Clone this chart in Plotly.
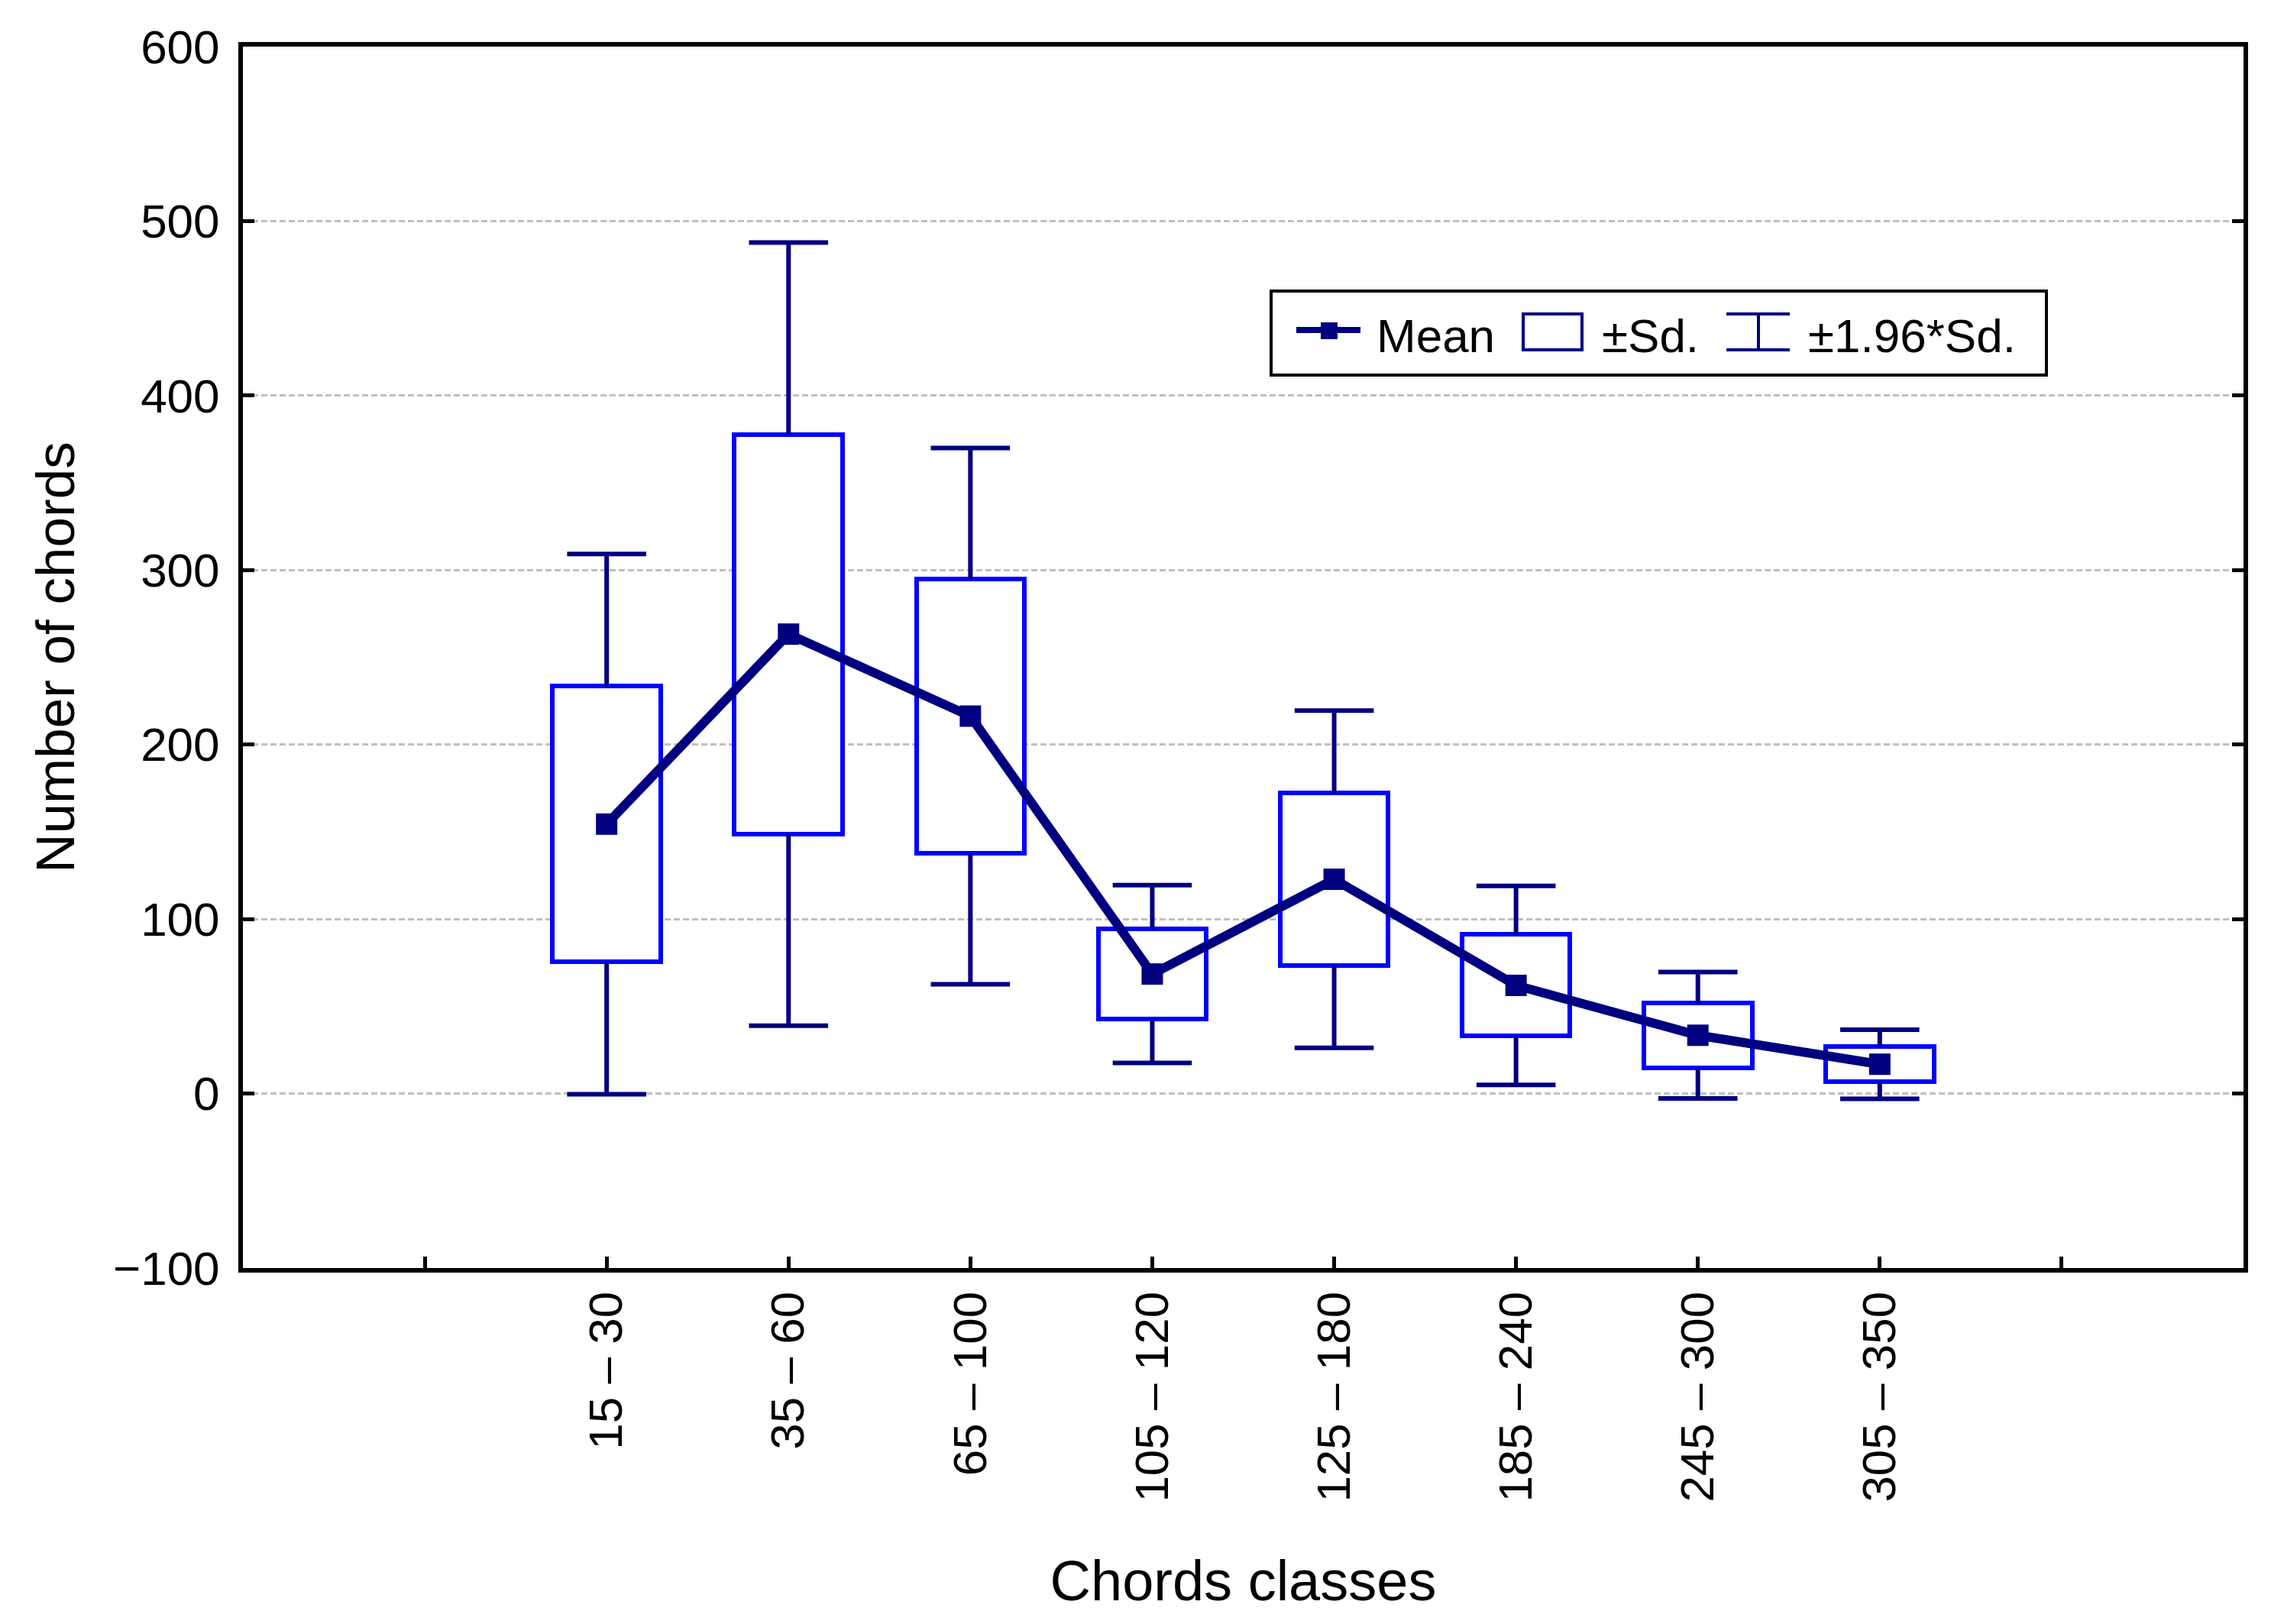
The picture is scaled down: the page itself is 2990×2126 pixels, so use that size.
import plotly.graph_objects as go

# ---------------- data ----------------
categories = ["15 – 30", "35 – 60", "65 – 100", "105 – 120",
              "125 – 180", "185 – 240", "245 – 300", "305 – 350"]
positions = [2, 3, 4, 5, 6, 7, 8, 9]
means = [154.4, 263.3, 216.3, 68.5, 122.8, 62.0, 33.4, 16.8]
sds = [79.0, 114.5, 78.4, 26.0, 49.3, 29.1, 18.5, 10.1]
k_ci = 1.96
y_ticks = [-100, 0, 100, 200, 300, 400, 500, 600]
x_ticks = [1, 2, 3, 4, 5, 6, 7, 8, 9, 10]
x_ticktext = [""] + categories + [""]

# ---------------- style ----------------
OFF = 8                      # page body margin
W, H = 2990 - 2 * OFF, 2126 - 2 * OFF
PL, PT, PR, PB = 318, 61, 2937, 1660   # plot-area edges in page pixels
ML, MT = PL - OFF, PT - OFF
MR = W - (PR - OFF)
MB = H - (PB - OFF)
NAVY = "#000080"
BLUE = "#0000FF"
FONT = "Arial, Liberation Sans, sans-serif"
TICK_FS = 62

box_low = [m - s for m, s in zip(means, sds)]
box_len = [2 * s for s in sds]

wx, wy = [], []
cap_x, cap_y = [], []
for p, m, s in zip(positions, means, sds):
    wx += [p, p, None, p, p, None]
    wy += [m + s, m + k_ci * s, None, m - s, m - k_ci * s, None]
    cap_x += [p, p]
    cap_y += [m + k_ci * s, m - k_ci * s]

fig = go.Figure()

# ±Sd boxes
fig.add_trace(go.Bar(
    x=positions, y=box_len, base=box_low, width=0.595,
    marker=dict(color="white", line=dict(color=BLUE, width=6)),
    showlegend=False, hoverinfo="skip"))

# ±1.96*Sd whiskers
fig.add_trace(go.Scatter(
    x=wx, y=wy, mode="lines", line=dict(color=NAVY, width=6),
    showlegend=False, hoverinfo="skip", connectgaps=False))
fig.add_trace(go.Scatter(
    x=cap_x, y=cap_y, mode="markers",
    marker=dict(symbol="line-ew", size=74, color=NAVY,
                line=dict(color=NAVY, width=6)),
    showlegend=False, hoverinfo="skip"))

# Mean line
fig.add_trace(go.Scatter(
    x=positions, y=means, mode="lines+markers",
    line=dict(color=NAVY, width=12),
    marker=dict(symbol="square", size=28, color=NAVY),
    showlegend=False))

# ---------------- manual legend (paper coordinates) ----------------
PW = PR - PL
PH = PB - PT


def px(xp):
    return (xp - PL) / PW


def py(yp):
    return (PB - yp) / PH


shapes = [
    dict(type="rect", xref="paper", yref="paper",
         x0=px(1664), x1=px(2679), y0=py(491), y1=py(381),
         line=dict(color="black", width=4), fillcolor="white", layer="above"),
    dict(type="line", xref="paper", yref="paper",
         x0=px(1697), x1=px(1781), y0=py(432), y1=py(432),
         line=dict(color=NAVY, width=8), layer="above"),
    dict(type="rect", xref="paper", yref="paper",
         x0=px(1729), x1=px(1751), y0=py(444), y1=py(422),
         line=dict(color=NAVY, width=0), fillcolor=NAVY, layer="above"),
    dict(type="rect", xref="paper", yref="paper",
         x0=px(1994), x1=px(2071), y0=py(458), y1=py(411),
         line=dict(color=NAVY, width=4), fillcolor="white", layer="above"),
    dict(type="line", xref="paper", yref="paper",
         x0=px(2260), x1=px(2343), y0=py(411), y1=py(411),
         line=dict(color=NAVY, width=4), layer="above"),
    dict(type="line", xref="paper", yref="paper",
         x0=px(2260), x1=px(2343), y0=py(458), y1=py(458),
         line=dict(color=NAVY, width=4), layer="above"),
    dict(type="line", xref="paper", yref="paper",
         x0=px(2302), x1=px(2302), y0=py(411), y1=py(458),
         line=dict(color=NAVY, width=4), layer="above"),
]

legend_texts = [("Mean", 1800), ("±Sd.", 2095), ("±1.96*Sd.", 2365)]
annotations = []
for txt, xpix in legend_texts:
    annotations.append(dict(
        text=txt, xref="paper", yref="paper", x=px(xpix), y=py(440),
        xanchor="left", yanchor="middle", showarrow=False,
        font=dict(family=FONT, size=TICK_FS, color="black")))

fig.update_layout(
    width=W, height=H,
    margin=dict(l=ML, r=MR, t=MT, b=MB, pad=0),
    paper_bgcolor="white", plot_bgcolor="white",
    font=dict(family=FONT, size=TICK_FS, color="black"),
    shapes=shapes, annotations=annotations,
    showlegend=False, bargap=0,
)

fig.update_xaxes(
    range=[0, 11], tickmode="array", tickvals=x_ticks, ticktext=x_ticktext,
    tickangle=-90, ticks="inside", ticklen=15, tickwidth=5, tickcolor="black",
    showline=True, linewidth=6, linecolor="black", mirror=True,
    showgrid=False, zeroline=False,
    tickfont=dict(family=FONT, size=TICK_FS, color="black"),
    ticklabelstandoff=0,
    title=dict(text="Chords classes", standoff=80,
               font=dict(family=FONT, size=74, color="black")),
)

fig.update_yaxes(
    range=[-100, 600], tickmode="array", tickvals=y_ticks,
    ticks="inside", ticklen=15, tickwidth=5, tickcolor="black",
    showline=True, linewidth=6, linecolor="black", mirror="ticks",
    showgrid=True, gridcolor="#C0C0C0", gridwidth=3, griddash="8px,4px",
    zeroline=False,
    tickfont=dict(family=FONT, size=TICK_FS, color="black"),
    ticklabelstandoff=12,
    title=dict(text="Number of chords", standoff=29,
               font=dict(family=FONT, size=71, color="black")),
)

fig.write_html("out.html")
